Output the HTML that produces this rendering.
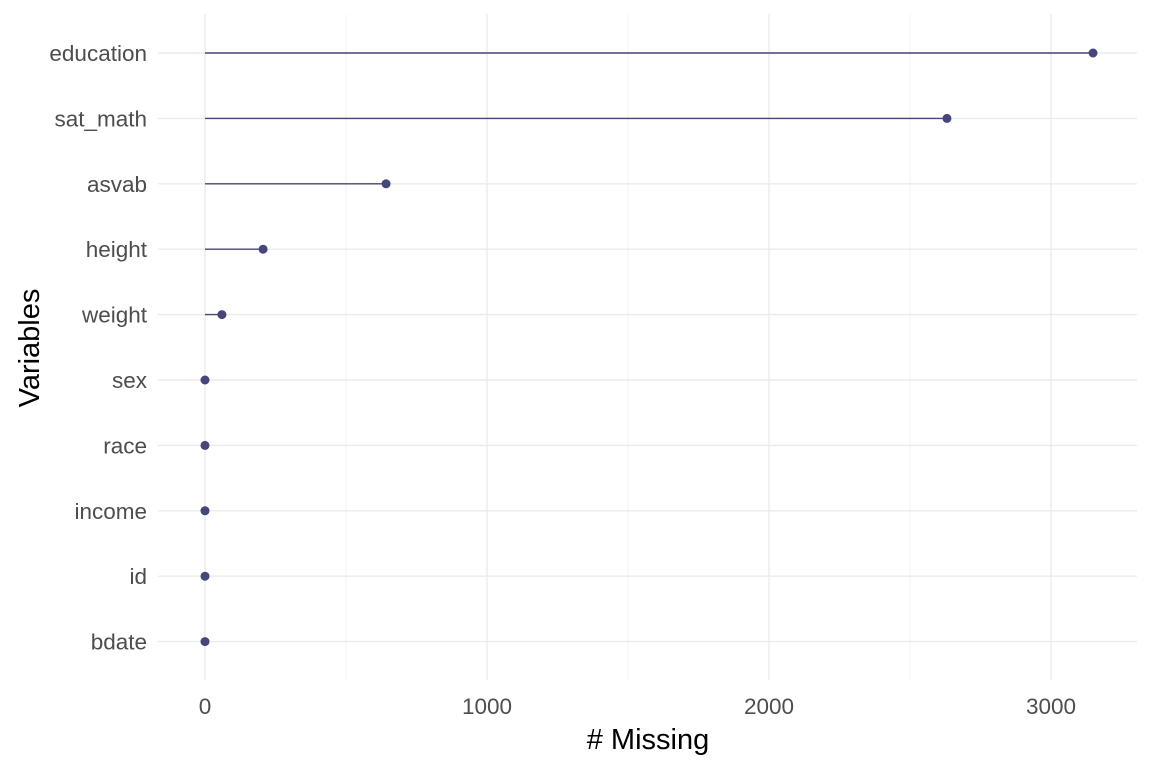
<!DOCTYPE html>
<html><head><meta charset="utf-8"><style>
body{margin:0;background:#fff;font-family:"Liberation Sans",Arial,sans-serif}
</style></head><body>
<svg id="chart" width="1152" height="768" xmlns="http://www.w3.org/2000/svg"></svg>
<script>
const categories=["education","sat_math","asvab","height","weight","sex","race","income","id","bdate"];
const missing=[3149,2631,642,206,60,0,0,0,0,0];
const xTicks=[0,1000,2000,3000];
const xMinor=[500,1500,2500];
const svg=document.getElementById('chart');
const NS='http://www.w3.org/2000/svg';
function x(v){return 205+v*0.282;}
function y(i){return 53+i*65.4;}
function el(t,a){const e=document.createElementNS(NS,t);for(const k in a)e.setAttribute(k,a[k]);svg.appendChild(e);return e;}
const pTop=14,pBot=680,pLeft=158,pRight=1137;
xMinor.forEach(v=>{const l=el('line',{x1:x(v),x2:x(v),y1:pTop,y2:pBot,stroke:'#f3f3f3','stroke-width':1});

});
xTicks.forEach(v=>{const l=el('line',{x1:x(v),x2:x(v),y1:pTop,y2:pBot,stroke:'#ebebeb','stroke-width':1.4});


const t=el('text',{x:x(v),y:714,'text-anchor':'middle','font-size':22.5,fill:'#4d4d4d'});t.textContent=v;

});
categories.forEach((c,i)=>{const l=el('line',{x1:pLeft,x2:pRight,y1:y(i),y2:y(i),stroke:'#ebebeb','stroke-width':1.4});


const t=el('text',{x:147,y:y(i)+8,'text-anchor':'end','font-size':22.5,fill:'#4d4d4d'});t.textContent=c;

});
categories.forEach((c,i)=>{const s=el('line',{x1:x(0),x2:x(missing[i]),y1:y(i),y2:y(i),stroke:'#46467a','stroke-width':1.4});


const p=el('circle',{cx:x(missing[i]),cy:y(i),r:4.5,fill:'#46467a'});

});
const xt=el('text',{x:648,y:749,'text-anchor':'middle','font-size':29,fill:'#000'});xt.textContent='# Missing';


const yt=el('text',{x:0,y:0,'text-anchor':'middle','font-size':29,fill:'#000',transform:'translate(39,348) rotate(-90)'});yt.textContent='Variables';


</script>
</body></html>
